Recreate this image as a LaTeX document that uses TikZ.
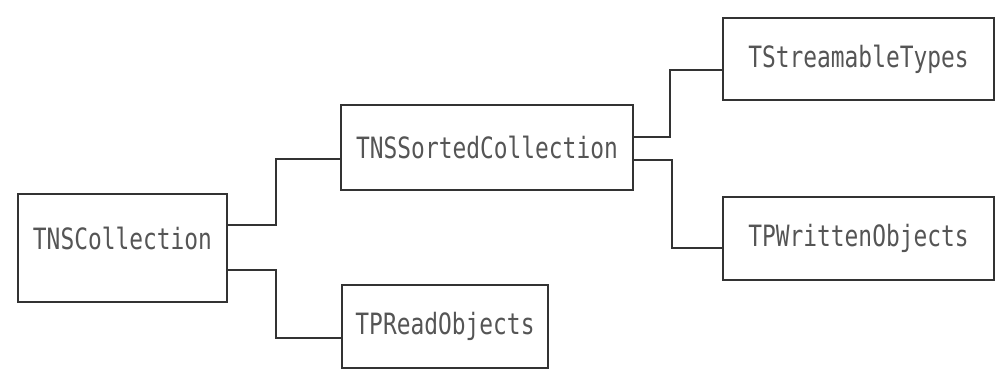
\documentclass[tikz,border=0pt]{standalone}
\usepackage{fontspec}
\newfontfamily\boxfont[FakeStretch=0.78]{DejaVu Sans Mono}
\definecolor{inkline}{HTML}{333333}
\definecolor{inktext}{HTML}{555555}
\begin{document}
\begin{tikzpicture}[x=0.75pt,y=-0.75pt,
  classbox/.style={draw=inkline,line width=2pt,rectangle,inner sep=0pt,outer sep=0pt,
    font=\boxfont\fontsize{22}{24}\selectfont,text=inktext},
  link/.style={draw=inkline,line width=1.2pt}]
\useasboundingbox (0,0) rectangle (997,370);
\node[classbox,minimum width=209*0.75pt,minimum height=108*0.75pt,
  label={[font=\boxfont\fontsize{22}{24}\selectfont,text=inktext,yshift=7.5pt]center:TNSCollection}]
  (tnsc) at (122.5,248) {};
\node[classbox,minimum width=292*0.75pt,minimum height=85*0.75pt] (tnss) at (487,147.5) {TNSSortedCollection};
\node[classbox,minimum width=206*0.75pt,minimum height=83*0.75pt] (tprd) at (445,326.5) {TPReadObjects};
\node[classbox,minimum width=271*0.75pt,minimum height=82*0.75pt] (tstr) at (858.5,59) {TStreamableTypes};
\node[classbox,minimum width=271*0.75pt,minimum height=83*0.75pt] (tpwr) at (858.5,238.5) {TPWrittenObjects};
\coordinate (j1) at (276,225);
\coordinate (j2) at (276,270);
\coordinate (j3) at (670,137);
\coordinate (j4) at (672,160);
\draw[link] (tnsc.east |- j1) -- (j1) |- (tnss.west |- 0,159);
\draw[link] (tnsc.east |- j2) -- (j2) |- (tprd.west |- 0,338);
\draw[link] (tnss.east |- j3) -- (j3) |- (tstr.west |- 0,70);
\draw[link] (tnss.east |- j4) -- (j4) |- (tpwr.west |- 0,248);
\end{tikzpicture}
\end{document}
